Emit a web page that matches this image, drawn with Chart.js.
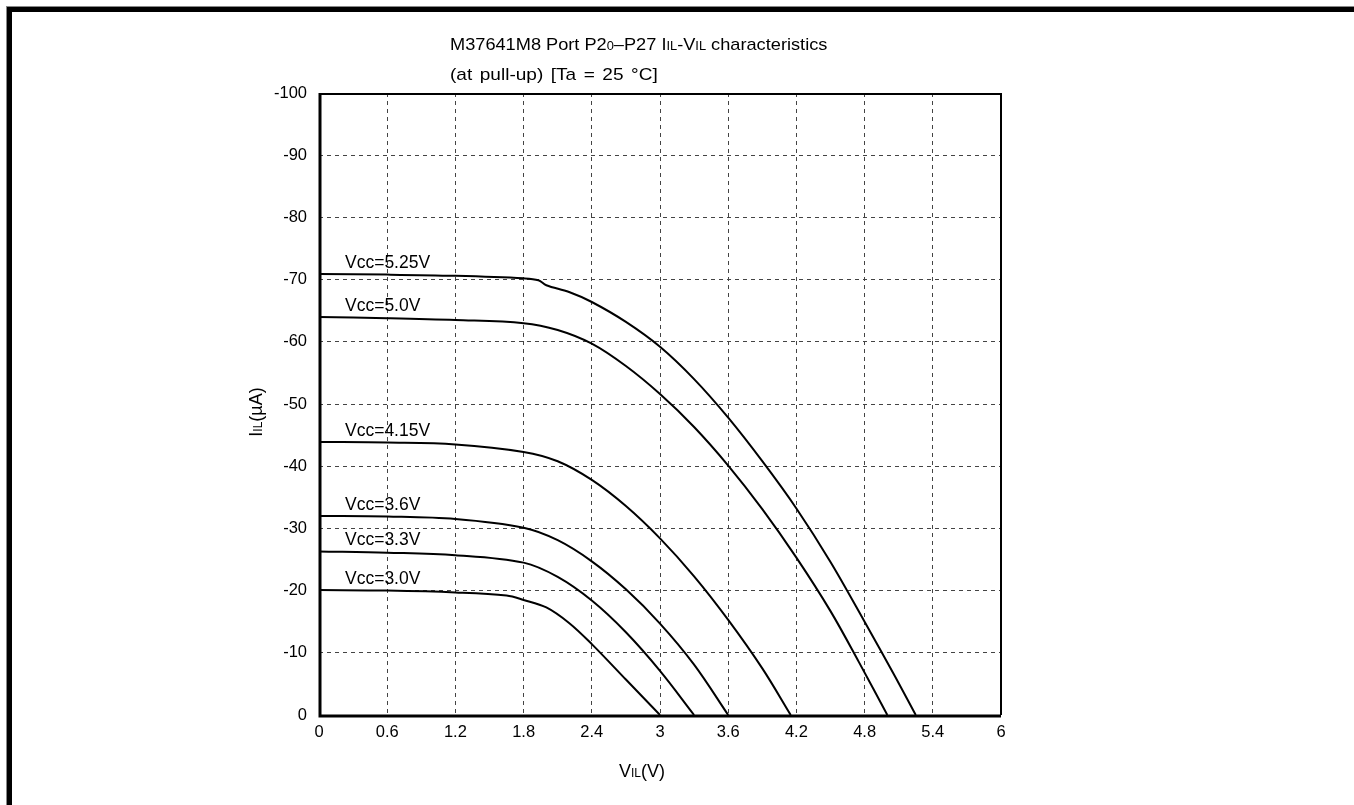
<!DOCTYPE html>
<html>
<head>
<meta charset="utf-8">
<title>M37641M8 Port P20–P27 IIL-VIL characteristics</title>
<script src="https://cdn.jsdelivr.net/npm/chart.js@4/dist/chart.umd.min.js"></script>
<style>
  html, body { margin: 0; padding: 0; background: #fff; }
  #wrap { position: relative; width: 1354px; height: 805px; }
</style>
</head>
<body>
<div id="wrap"><canvas id="chart"></canvas></div>
<script>
const FONT = '"Liberation Sans", Arial, Helvetica, sans-serif';

// Axis ticks
const xTickValues = [0, 0.6, 1.2, 1.8, 2.4, 3, 3.6, 4.2, 4.8, 5.4, 6];
const yTickValues = [-100, -90, -80, -70, -60, -50, -40, -30, -20, -10, 0];

// Curve labels (supply voltage)
const vccLabels = ['Vcc=5.25V', 'Vcc=5.0V', 'Vcc=4.15V', 'Vcc=3.6V', 'Vcc=3.3V', 'Vcc=3.0V'];

// VIL (V) / IIL (µA) per supply voltage
const vil525 = [0, 0.6, 1.2, 1.8, 1.93, 2.0, 2.2, 2.4, 2.7, 3.0, 3.3, 3.6, 3.9, 4.2, 4.5, 4.8, 5.05, 5.25];
const iil525 = [-70.9, -70.8, -70.6, -70.2, -69.9, -69.1, -68.0, -66.4, -63.2, -59.2, -54.0, -47.8, -40.8, -33.2, -24.6, -15.0, -6.8, 0];

const vil500 = [0, 0.6, 1.2, 1.8, 2.1, 2.4, 2.7, 3.0, 3.3, 3.6, 3.9, 4.2, 4.5, 4.75, 5.0];
const iil500 = [-64.0, -63.8, -63.5, -63.0, -61.9, -59.7, -56.1, -51.6, -46.3, -40.1, -33.1, -25.3, -16.7, -8.5, 0];

const vil415 = [0, 0.6, 1.2, 1.8, 2.1, 2.4, 2.7, 3.0, 3.3, 3.6, 3.9, 4.15];
const iil415 = [-43.9, -43.8, -43.5, -42.3, -40.8, -37.8, -33.6, -28.4, -22.3, -15.3, -7.5, 0];

const vil360 = [0, 0.6, 1.2, 1.8, 2.1, 2.4, 2.7, 3.0, 3.3, 3.6];
const iil360 = [-32.0, -31.9, -31.5, -30.1, -28.1, -24.7, -20.2, -14.7, -8.1, 0];

const vil330 = [0, 0.6, 1.2, 1.8, 2.1, 2.4, 2.7, 3.0, 3.3];
const iil330 = [-26.3, -26.1, -25.7, -24.5, -22.2, -18.4, -13.3, -7.1, 0];

const vil300 = [0, 0.6, 1.2, 1.65, 1.8, 2.0, 2.2, 2.4, 2.7, 3.0];
const iil300 = [-20.1, -20.0, -19.7, -19.2, -18.5, -17.3, -14.8, -11.4, -5.7, 0];

const seriesVil = [vil525, vil500, vil415, vil360, vil330, vil300];
const seriesIil = [iil525, iil500, iil415, iil360, iil330, iil300];

const datasets = seriesVil.map((xs, i) => ({
  label: vccLabels[i],
  data: xs.map((x, j) => ({ x: x, y: seriesIil[i][j] })),
  borderColor: '#000',
  borderWidth: 2,
  pointRadius: 0,
  fill: false,
  tension: 0.35
}));

// Draws a run of text pieces, with the small-caps pieces at a reduced size.
// stretch widens the glyphs horizontally; gap adds extra room after spaces.
function drawRich(ctx, segs, x, y, size, align, stretch, gap) {
  stretch = stretch || 1;
  gap = gap || 0;
  const small = Math.round(size * 0.68);
  ctx.save();
  if ('wordSpacing' in ctx) ctx.wordSpacing = gap + 'px';
  const widths = segs.map(s => {
    ctx.font = (s.sub ? small : size) + 'px ' + FONT;
    return ctx.measureText(s.t).width;
  });
  const total = widths.reduce((a, b) => a + b, 0) * stretch;
  const x0 = align === 'center' ? x - total / 2 : (align === 'right' ? x - total : x);
  ctx.translate(x0, y);
  ctx.scale(stretch, 1);
  ctx.textAlign = 'left';
  ctx.textBaseline = 'alphabetic';
  ctx.fillStyle = '#000';
  let cx = 0;
  segs.forEach((s, i) => {
    ctx.font = (s.sub ? small : size) + 'px ' + FONT;
    ctx.fillText(s.t, cx, 0);
    cx += widths[i];
  });
  ctx.restore();
}

const titleLine1 = [
  { t: 'M37641M8 Port P2' }, { t: '0', sub: true }, { t: '–P27 I' }, { t: 'IL', sub: true },
  { t: '-V' }, { t: 'IL', sub: true }, { t: ' characteristics' }
];
const titleLine2 = [{ t: '(at pull-up) [Ta = 25 °C]' }];
const yTitle = [{ t: 'I' }, { t: 'IL', sub: true }, { t: '(µA)' }];
const xTitle = [{ t: 'V' }, { t: 'IL', sub: true }, { t: '(V)' }];

const decorations = {
  id: 'decorations',
  afterDatasetsDraw(chart) {
    const ctx = chart.ctx;
    const ca = chart.chartArea;
    const yScale = chart.scales.y;
    ctx.save();

    // curve labels sit just above the start of each curve
    ctx.font = '17.5px ' + FONT;
    ctx.fillStyle = '#000';
    ctx.textAlign = 'left';
    ctx.textBaseline = 'alphabetic';
    seriesIil.forEach((ys, i) => {
      const py = yScale.getPixelForValue(ys[0]) - 6;
      ctx.fillText(vccLabels[i], ca.left + 26, py);
    });

    // plot frame
    ctx.strokeStyle = '#000';
    ctx.lineWidth = 3;
    ctx.beginPath();
    ctx.moveTo(ca.left + 1, ca.top);
    ctx.lineTo(ca.left + 1, ca.bottom + 1);
    ctx.lineTo(ca.right, ca.bottom + 1);
    ctx.stroke();
    ctx.lineWidth = 2;
    ctx.beginPath();
    ctx.moveTo(ca.left, ca.top + 1);
    ctx.lineTo(ca.right, ca.top + 1);
    ctx.lineTo(ca.right, ca.bottom);
    ctx.stroke();

    // titles
    drawRich(ctx, titleLine1, ca.left + 131, ca.top - 43, 17, 'left', 1.07, 0);
    drawRich(ctx, titleLine2, ca.left + 131, ca.top - 13, 17, 'left', 1.12, 2);
    drawRich(ctx, xTitle, ca.left + 323, ca.bottom + 62, 18, 'center');

    ctx.save();
    ctx.translate(ca.left - 57, (ca.top + ca.bottom) / 2 + 8);
    ctx.rotate(-Math.PI / 2);
    drawRich(ctx, yTitle, 0, 0, 18, 'center');
    ctx.restore();

    // page frame (top and left edges)
    ctx.fillStyle = '#000';
    ctx.fillRect(6, 6, chart.width - 6, 6);
    ctx.fillRect(6, 6, 6, chart.height - 6);
    ctx.fillStyle = '#888';
    ctx.fillRect(6, 6, chart.width - 6, 1);
    ctx.fillRect(6, 6, 1, chart.height - 6);

    ctx.restore();
  }
};

new Chart(document.getElementById('chart'), {
  type: 'line',
  data: { datasets: datasets },
  plugins: [decorations],
  options: {
    responsive: true,
    maintainAspectRatio: false,
    animation: false,
    devicePixelRatio: 1,
    layout: { padding: { left: 0, top: 93, right: 353, bottom: 0 } },
    plugins: {
      legend: { display: false },
      tooltip: { enabled: false },
      title: { display: false }
    },
    scales: {
      x: {
        type: 'linear',
        min: 0,
        max: 6,
        afterBuildTicks: (scale) => { scale.ticks = xTickValues.map(v => ({ value: v })); },
        afterFit: (scale) => { scale.height = 90; },
        ticks: {
          color: '#000',
          font: { family: FONT, size: 16.5 },
          padding: 8,
          maxRotation: 0,
          autoSkip: false,
          callback: (v) => String(v)
        },
        grid: { color: '#444', lineWidth: 1, drawTicks: false },
        border: { display: false, dash: [4, 4] }
      },
      y: {
        type: 'linear',
        min: -100,
        max: 0,
        reverse: true,
        afterBuildTicks: (scale) => { scale.ticks = yTickValues.map(v => ({ value: v })); },
        afterFit: (scale) => { scale.width = 319; },
        ticks: {
          color: '#000',
          font: { family: FONT, size: 16.5 },
          padding: 12,
          autoSkip: false,
          callback: (v) => String(v)
        },
        grid: { color: '#444', lineWidth: 1, drawTicks: false },
        border: { display: false, dash: [4, 4] }
      }
    }
  }
});
</script>
</body>
</html>
